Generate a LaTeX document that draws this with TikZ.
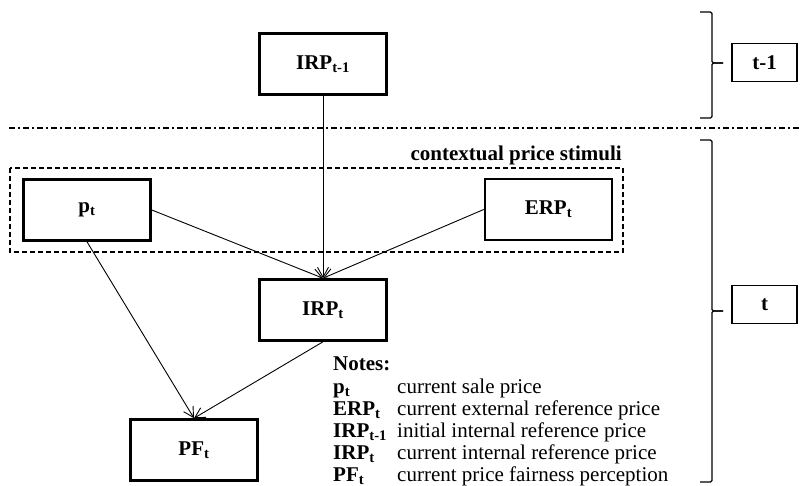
\documentclass[tikz,border=0pt]{standalone}
\usepackage{fontspec}
\setmainfont{Liberation Serif}
\usetikzlibrary{arrows.meta}
\newcommand{\sbx}[1]{\textsubscript{#1}}
\begin{document}
\begin{tikzpicture}[x=1pt,y=-1pt,
  mainbox/.style={draw, line width=2.6pt, minimum width=127pt, minimum height=61pt, inner sep=0pt,
    font=\fontsize{21}{25}\selectfont\bfseries},
  timebox/.style={draw, line width=1.2pt, minimum width=65pt, minimum height=38pt, inner sep=0pt,
    font=\fontsize{21}{25}\selectfont\bfseries},
  conn/.style={line width=0.9pt, -{Straight Barb[length=10pt,width=11pt,line width=0.9pt]}},
  notelab/.style={anchor=base west, inner sep=0pt, font=\fontsize{21}{25}\selectfont\bfseries},
  notetxt/.style={anchor=base west, inner sep=0pt, font=\fontsize{21}{25}\selectfont},
  bracestyle/.style={line width=1.3pt, rounded corners=1.5pt}
]
\useasboundingbox (0,0) rectangle (800,486);

% separator
\draw[line width=1.3pt, dash pattern=on 6pt off 3pt on 2pt off 3pt] (9,128) -- (800,128);

% contextual price stimuli group
\draw[line width=1.3pt, dash pattern=on 5pt off 3pt] (10,168) rectangle (623,252);
\node[anchor=east, inner sep=0pt, font=\fontsize{21}{25}\selectfont\bfseries] (ctx) at (622,155) {contextual price stimuli};

% main boxes
\node[mainbox] (irpprev) at (323,64) {IRP\sbx{t-1}};
\node[mainbox] (p) at (87,210) {p\sbx{t}};
\node[mainbox] (erp) at (548.5,209.5) {ERP\sbx{t}};
\node[mainbox] (irp) at (323,310) {IRP\sbx{t}};
\node[mainbox] (pf) at (194,450) {PF\sbx{t}};

% connectors
\draw[conn] (irpprev.south) -- (irp.north);
\draw[conn] (p.east) -- (irp.north);
\draw[conn] (erp.west) -- (irp.north);
\draw[conn] (p.south) -- (pf.north);
\draw[conn] (irp.south) -- (pf.north);

% time boxes
\node[timebox] (tprev) at (764.5,62.5) {t-1};
\node[timebox] (tcur) at (764.5,304.5) {t};

% braces
\coordinate (b1tip) at (723,63);
\coordinate (b2tip) at (723,311);
\draw[bracestyle] (700,12) -- (712,12) -- (712,63) -- (b1tip);
\draw[bracestyle] (b1tip) -- (712,63) -- (712,118) -- (700,118);
\draw[bracestyle] (700,140) -- (712,140) -- (712,311) -- (b2tip);
\draw[bracestyle] (b2tip) -- (712,311) -- (712,482) -- (700,482);

% notes
\node[notelab] (notes) at (333,370) {Notes:};
\node[notelab] (l1) at (333,393) {p\sbx{t}};
\node[notelab] (l2) at (333,415) {ERP\sbx{t}};
\node[notelab] (l3) at (333,437) {IRP\sbx{t-1}};
\node[notelab] (l4) at (333,459) {IRP\sbx{t}};
\node[notelab] (l5) at (333,481) {PF\sbx{t}};
\node[notetxt] (d1) at (397,393) {current sale price};
\node[notetxt] (d2) at (397,415) {current external reference price};
\node[notetxt] (d3) at (397,437) {initial internal reference price};
\node[notetxt] (d4) at (397,459) {current internal reference price};
\node[notetxt] (d5) at (397,481) {current price fairness perception};
\end{tikzpicture}
\end{document}
